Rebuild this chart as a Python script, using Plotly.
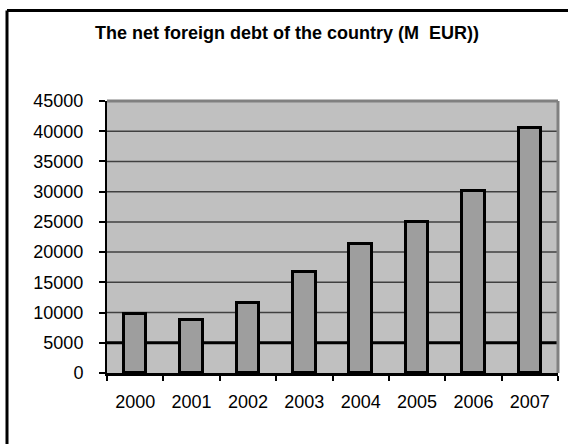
import plotly.graph_objects as go

years = ["2000", "2001", "2002", "2003", "2004", "2005", "2006", "2007"]
debt = [9800, 8700, 11600, 16700, 21300, 24900, 30100, 40500]
grid_values = [10000, 15000, 20000, 25000, 30000, 35000, 40000]
emphasized_value = 5000
title_text = "The net foreign debt of the country (M  EUR))"

W, H = 568, 444
L, R, T, B = 107, 10, 101, 71
pw, ph = W - L - R, H - T - B

def px_x(x):
    return (x - L) / pw

def px_y(y):
    return (H - B - y) / ph

fig = go.Figure()
fig.add_trace(go.Bar(
    x=years, y=debt, width=0.4,
    marker=dict(color="#9E9E9E", line=dict(color="black", width=3)),
))

shapes = []
for g in grid_values:
    shapes.append(dict(type="line", xref="paper", yref="y", x0=0, x1=1, y0=g, y1=g,
                       line=dict(color="#404040", width=1.5), layer="below"))
shapes.append(dict(type="line", xref="paper", yref="y", x0=0, x1=1,
                   y0=emphasized_value, y1=emphasized_value,
                   line=dict(color="black", width=3), layer="below"))
shapes += [
    # plot-area border (top, right)
    dict(type="line", xref="paper", yref="paper", x0=0, x1=1, y0=1, y1=1,
         line=dict(color="#808080", width=3), layer="above"),
    dict(type="line", xref="paper", yref="paper", x0=1, x1=1, y0=0, y1=1,
         line=dict(color="#808080", width=3), layer="above"),
    # outer chart frame (left and top edges)
    dict(type="line", xref="paper", yref="paper", x0=px_x(7), x1=px_x(7),
         y0=px_y(10.5), y1=px_y(H), line=dict(color="black", width=3), layer="above"),
    dict(type="line", xref="paper", yref="paper", x0=px_x(7), x1=px_x(W),
         y0=px_y(10.5), y1=px_y(10.5), line=dict(color="black", width=3), layer="above"),
]

fig.update_layout(
    width=W, height=H,
    margin=dict(l=L, r=R, t=T, b=B, pad=0),
    paper_bgcolor="white", plot_bgcolor="#C0C0C0",
    font=dict(family="Liberation Sans, Arial", size=18, color="black"),
    showlegend=False,
    title=dict(text="<b>" + title_text + "</b>", x=287 / W, xanchor="center",
               y=1 - 33 / H, yanchor="middle",
               font=dict(size=18, family="Liberation Sans, Arial", color="black")),
    shapes=shapes,
    bargap=0,
)
fig.update_xaxes(type="category", tickson="boundaries", ticks="outside", ticklen=5,
                 tickwidth=1.5, tickcolor="black", showline=True, linecolor="black",
                 linewidth=3, showgrid=False, ticklabelstandoff=10)
fig.update_yaxes(range=[0, 45000], dtick=5000, ticks="outside", ticklen=6, tickwidth=2,
                 tickcolor="black", showline=True, linecolor="black", linewidth=2,
                 showgrid=False, zeroline=False, ticklabelstandoff=12, tickformat="d")

fig.write_html("out.html", config={"displayModeBar": False},
               post_script="document.body.style.margin='0';document.body.style.overflow='hidden';")
